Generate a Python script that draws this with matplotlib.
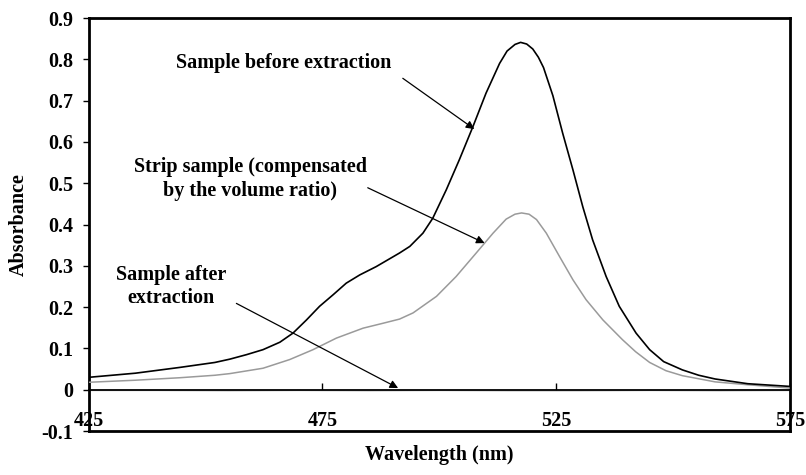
import numpy as np
import matplotlib
matplotlib.use("Agg")
import matplotlib.pyplot as plt

# ── Données ──────────────────────────────────────────────────────────────────
wl_before = [425, 435, 444.5, 452, 455.2, 458.8, 462.3, 465.9, 468.7, 471.6, 474.4,
             477.3, 480.1, 483, 486.5, 491.5, 493.7, 496.5, 498.6, 501.5, 504.3, 507.2,
             510, 512.9, 514.5, 516.2, 517.4, 518.7, 520, 521.2, 522.3, 524.3, 526.4,
             528.6, 530.7, 532.8, 535.7, 538.5, 542.1, 545, 548, 552, 555.5, 559, 566, 575]
abs_before = [0.030, 0.040, 0.054, 0.066, 0.074, 0.085, 0.097, 0.115, 0.137, 0.169, 0.202,
              0.230, 0.258, 0.278, 0.298, 0.331, 0.347, 0.379, 0.415, 0.484, 0.557, 0.637,
              0.718, 0.790, 0.820, 0.836, 0.841, 0.837, 0.825, 0.805, 0.780, 0.712, 0.621,
              0.532, 0.443, 0.363, 0.274, 0.202, 0.137, 0.097, 0.068, 0.048, 0.035, 0.026,
              0.0145, 0.008]

wl_strip = [425, 435, 444.5, 452, 455.2, 462.3, 468, 473, 478, 483.7, 488, 491.5,
            494.4, 499.4, 503.6, 507.9, 511.5, 514.3, 516.2, 517.6, 519.2, 520.8,
            522.9, 525.7, 528.6, 531.4, 535, 539.2, 542, 545, 548.5, 552, 559, 566, 575]
abs_strip = [0.018, 0.023, 0.029, 0.035, 0.039, 0.052, 0.073, 0.097, 0.125, 0.149, 0.161,
             0.171, 0.186, 0.226, 0.274, 0.331, 0.379, 0.413, 0.425, 0.428, 0.425, 0.412,
             0.379, 0.323, 0.266, 0.218, 0.169, 0.121, 0.092, 0.066, 0.046, 0.034, 0.019,
             0.012, 0.004]

wl_after = [425, 440, 455, 470, 485, 500, 515, 530, 545, 560, 575]
abs_after = [-0.002, -0.002, -0.003, -0.002, -0.003, -0.002, -0.003, -0.003, -0.002, -0.003, -0.002]

x_ticks = [425, 475, 525, 575]
y_ticks = [-0.1, 0, 0.1, 0.2, 0.3, 0.4, 0.5, 0.6, 0.7, 0.8, 0.9]
y_tick_labels = ["-0.1", "0", "0.1", "0.2", "0.3", "0.4", "0.5", "0.6", "0.7", "0.8", "0.9"]

# ── Style ───────────────────────────────────────────────────────────────────
plt.rcParams["font.family"] = ["Liberation Serif", "DejaVu Serif"]
plt.rcParams["font.weight"] = "bold"
FS = 14.5

fig = plt.figure(figsize=(8.06, 4.75), dpi=100)
ax = fig.add_axes([0.110, 0.0926, 0.870, 0.8695])

ax.plot(wl_after, abs_after, color="#c8c8c8", lw=1.0, zorder=2)
ax.plot(wl_strip, abs_strip, color="#9a9a9a", lw=1.1, zorder=3)
ax.plot(wl_before, abs_before, color="black", lw=1.2, zorder=4)

ax.set_xlim(425, 575)
ax.set_ylim(-0.1, 0.9)

# axe x sur y = 0, cadre du bas redessiné à -0.1
ax.spines["bottom"].set_position(("data", 0))
ax.spines["bottom"].set_linewidth(1.3)
for side in ("left", "top", "right"):
    ax.spines[side].set_linewidth(2.0)
ax.axhline(-0.1, color="black", lw=2.0, clip_on=False, zorder=5)

ax.set_xticks(x_ticks)
ax.set_xticklabels([str(v) for v in x_ticks], fontsize=FS, fontweight="bold")
ax.tick_params(axis="x", direction="in", length=5, width=1, pad=15)
ax.set_yticks(y_ticks)
ax.set_yticklabels(y_tick_labels, fontsize=FS, fontweight="bold")
ax.tick_params(axis="y", direction="out", length=4, width=1, pad=7)

ax.set_ylabel("Absorbance", fontsize=FS, fontweight="bold")
ax.yaxis.set_label_coords(-0.086, 0.5)
ax.set_xlabel("Wavelength (nm)", fontsize=FS, fontweight="bold")
ax.xaxis.set_label_coords(0.5, -0.033)

# ── Annotations ─────────────────────────────────────────────────────────────
arrow = dict(arrowstyle="-|>", color="black", lw=0.9, mutation_scale=12,
             shrinkA=0, shrinkB=0)

ax.text(466.8, 0.79, "Sample before extraction", ha="center", va="center",
        fontsize=FS, fontweight="bold")
ax.annotate("", xy=(507.5, 0.631), xytext=(492.2, 0.754), arrowprops=arrow)

ax.text(459.6, 0.51, "Strip sample (compensated\nby the volume ratio)", ha="center",
        va="center", multialignment="center", fontsize=FS, fontweight="bold",
        linespacing=1.25)
ax.annotate("", xy=(509.7, 0.355), xytext=(484.7, 0.489), arrowprops=arrow)

ax.text(442.6, 0.25, "Sample after\nextraction", ha="center", va="center",
        multialignment="center", fontsize=FS, fontweight="bold", linespacing=1.25)
ax.annotate("", xy=(491.2, 0.004), xytext=(456.6, 0.209), arrowprops=arrow)

fig.savefig("out.png", dpi=100)
